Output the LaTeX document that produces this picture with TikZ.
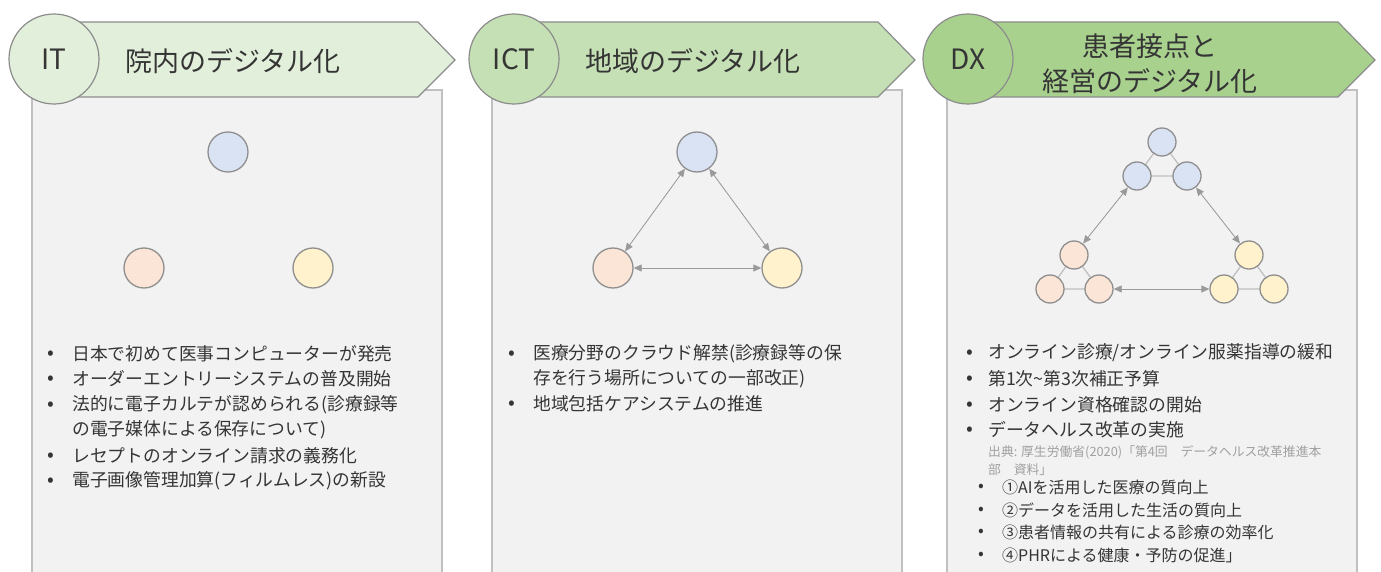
\documentclass[tikz,border=0pt]{standalone}
\usepackage{fontspec}
\setmainfont{Noto Sans CJK JP}
\usetikzlibrary{arrows.meta}
\definecolor{txt}{HTML}{353535}
\definecolor{srcgray}{HTML}{A0A0A0}
\definecolor{boxfill}{HTML}{F2F2F2}
\definecolor{boxline}{HTML}{C0C0C0}
\definecolor{bandline}{HTML}{8C8C8C}
\definecolor{gA}{HTML}{E2EFDA}
\definecolor{gB}{HTML}{C5E0B4}
\definecolor{gC}{HTML}{A9D18E}
\definecolor{cblue}{HTML}{DAE3F3}
\definecolor{corange}{HTML}{FBE5D6}
\definecolor{cyellow}{HTML}{FFF2CC}
\definecolor{circline}{HTML}{8F8F8F}
\definecolor{arrline}{HTML}{9A9A9A}
\definecolor{linkline}{HTML}{BFBFBF}
\tikzset{
  panelbox/.style={fill=boxfill, draw=boxline, line width=1.3pt},
  band/.style={draw=bandline, line width=1.2pt},
  badge/.style={circle, draw=bandline, line width=1.2pt, minimum size=90pt, inner sep=0pt, text=txt, font=\fontsize{28}{30}\selectfont},
  head/.style={text=txt, font=\fontsize{27}{36}\selectfont, inner sep=0pt},
  bigc/.style={circle, draw=circline, line width=1.3pt, minimum size=40pt, inner sep=0pt},
  smallc/.style={circle, draw=circline, line width=1.3pt, minimum size=28pt, inner sep=0pt},
  dbl/.style={{Triangle[length=8pt,width=7pt]}-{Triangle[length=8pt,width=7pt]}, draw=arrline, fill=circline, line width=0.8pt},
  link/.style={draw=linkline, line width=1.3pt},
  item/.style={anchor=west, text=txt, font=\fontsize{17.8}{20}\selectfont, inner sep=0pt},
  bul/.style={text=txt, font=\fontsize{20}{20}\selectfont, inner sep=0pt},
  subbul/.style={text=txt, font=\fontsize{17}{17}\selectfont, inner sep=0pt},
  subitem/.style={anchor=west, text=txt, font=\fontsize{16}{18}\selectfont, inner sep=0pt},
  src/.style={anchor=west, text=srcgray, font=\fontsize{12.8}{14}\selectfont, inner sep=0pt}
}
\begin{document}
\begin{tikzpicture}[x=1pt,y=-1pt]
\useasboundingbox (0,0) rectangle (1381,572);
\fill[white] (0,0) rectangle (1381,572);
% boxes
\draw[panelbox] (32,90) rectangle (442,585);
\draw[panelbox] (492,90) rectangle (902,585);
\draw[panelbox] (947,90) rectangle (1357,585);
% bands
\draw[band, fill=gA] (60,22) -- (418,22) -- (455,60) -- (418,97) -- (60,97) -- cycle;
\draw[band, fill=gB] (520,22) -- (878,22) -- (915,60) -- (878,97) -- (520,97) -- cycle;
\draw[band, fill=gC] (975,22) -- (1338,22) -- (1375,60) -- (1338,97) -- (975,97) -- cycle;
% badges
\node[badge, fill=gA] (it) at (54,59) {IT};
\node[badge, fill=gB] (ict) at (514,59) {ICT};
\node[badge, fill=gC] (dx) at (968,59) {DX};
% headings
\node[head, anchor=west] (h1) at (125,61) {院内のデジタル化};
\node[head, anchor=west] (h2) at (585,61) {地域のデジタル化};
\node[head] (h3a) at (1150,46) {患者接点と};
\node[head] (h3b) at (1150,81) {経営のデジタル化};
% panel 1 circles
\node[bigc, fill=cblue] (p1b) at (228,152) {};
\node[bigc, fill=corange] (p1o) at (144,268) {};
\node[bigc, fill=cyellow] (p1y) at (313,268) {};
% panel 2 circles
\node[bigc, fill=cblue] (p2b) at (697,152) {};
\node[bigc, fill=corange] (p2o) at (613,268) {};
\node[bigc, fill=cyellow] (p2y) at (782,268) {};
\draw[dbl] (p2b) -- (p2o);
\draw[dbl] (p2b) -- (p2y);
\draw[dbl] (p2o) -- (p2y);
% panel 3 clusters
\draw[link] (1162,142) coordinate (bt) -- (1137,176) coordinate (bl) -- (1187,176) coordinate (br) -- cycle;
\draw[link] (1074,255) coordinate (ot) -- (1050,289) coordinate (ol) -- (1099,289) coordinate (orr) -- cycle;
\draw[link] (1249,255) coordinate (yt) -- (1224,289) coordinate (yl) -- (1274,289) coordinate (yr) -- cycle;
\node[smallc, fill=cblue] (q1) at (bt) {};
\node[smallc, fill=cblue] (q2) at (bl) {};
\node[smallc, fill=cblue] (q3) at (br) {};
\node[smallc, fill=corange] (q4) at (ot) {};
\node[smallc, fill=corange] (q5) at (ol) {};
\node[smallc, fill=corange] (q6) at (orr) {};
\node[smallc, fill=cyellow] (q7) at (yt) {};
\node[smallc, fill=cyellow] (q8) at (yl) {};
\node[smallc, fill=cyellow] (q9) at (yr) {};
\draw[dbl] (q2) -- (q4);
\draw[dbl] (q3) -- (q7);
\draw[dbl] (q6) -- (q8);
% panel 1 text
\node[bul] (b11) at (51,355) {•};
\node[item] (t11) at (72,354) {日本で初めて医事コンピューターが発売};
\node[bul] (b12) at (51,380) {•};
\node[item] (t12) at (72,379) {オーダーエントリーシステムの普及開始};
\node[bul] (b13) at (51,406) {•};
\node[item] (t13) at (72,405) {法的に電子カルテが認められる(診療録等};
\node[item] (t13b) at (72,430) {の電子媒体による保存について)};
\node[bul] (b14) at (51,457) {•};
\node[item] (t14) at (72,456) {レセプトのオンライン請求の義務化};
\node[bul] (b15) at (51,482) {•};
\node[item] (t15) at (72,481) {電子画像管理加算(フィルムレス)の新設};
% panel 2 text
\node[bul] (b21) at (512,355) {•};
\node[item] (t21) at (533,354) {医療分野のクラウド解禁(診療録等の保};
\node[item] (t21b) at (533,379) {存を行う場所についての一部改正)};
\node[bul] (b22) at (512,405) {•};
\node[item] (t22) at (533,404) {地域包括ケアシステムの推進};
% panel 3 text
\node[bul] (b31) at (970,354) {•};
\node[item] (t31) at (988,353) {オンライン診療/オンライン服薬指導の緩和};
\node[bul] (b32) at (970,380) {•};
\node[item] (t32) at (988,379) {第1次\textasciitilde 第3次補正予算};
\node[bul] (b33) at (970,406) {•};
\node[item] (t33) at (988,405) {オンライン資格確認の開始};
\node[bul] (b34) at (970,431) {•};
\node[item] (t34) at (988,430) {データヘルス改革の実施};
\node[src] (s1) at (988,452) {出典: 厚生労働省(2020)「第4回　データヘルス改革推進本};
\node[src] (s2) at (988,470) {部　資料」};
\node[subbul] (b35) at (981,488) {•};
\node[subitem] (t35) at (1002,487) {①AIを活用した医療の質向上};
\node[subbul] (b36) at (981,511) {•};
\node[subitem] (t36) at (1002,510) {②データを活用した生活の質向上};
\node[subbul] (b37) at (981,533) {•};
\node[subitem] (t37) at (1002,532) {③患者情報の共有による診療の効率化};
\node[subbul] (b38) at (981,556) {•};
\node[subitem] (t38) at (1002,555) {④PHRによる健康・予防の促進」};
\end{tikzpicture}
\end{document}
